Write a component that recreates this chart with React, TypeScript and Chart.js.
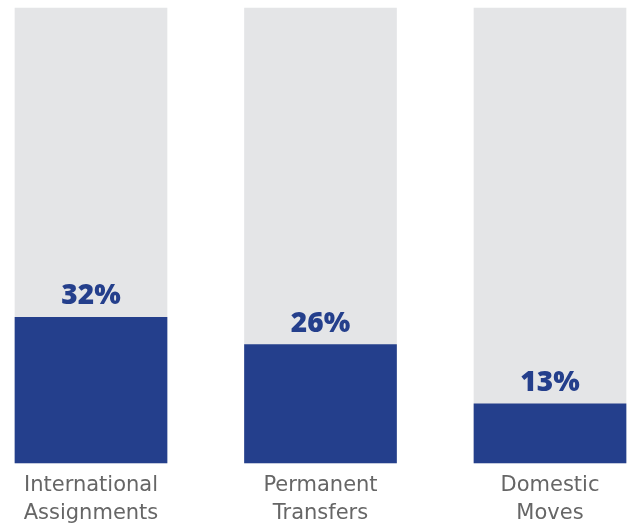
import React, { useEffect, useRef } from "react";
import { Chart, registerables } from "chart.js";

Chart.register(...registerables);

const categories: string[][] = [
  ["International", "Assignments"],
  ["Permanent", "Transfers"],
  ["Domestic", "Moves"],
];
const shares: number[] = [32, 26, 13];
const track: number[] = [100, 100, 100];

const BLUE = "#243F8C";
const GRAY = "#E4E5E7";

const valueLabels = {
  id: "valueLabels",
  afterDatasetsDraw(chart: any) {
    const ctx = chart.ctx;
    const meta = chart.getDatasetMeta(0);
    ctx.save();
    ctx.fillStyle = BLUE;
    ctx.font = '800 28px "Open Sans"';
    ctx.textAlign = "center";
    ctx.textBaseline = "alphabetic";
    meta.data.forEach((el: any, i: number) => {
      ctx.fillText(`${shares[i]}%`, el.x, el.y - 13);
    });
    ctx.restore();
  },
};

export default function App() {
  const ref = useRef<HTMLCanvasElement>(null);
  useEffect(() => {
    if (!ref.current) return;
    const chart = new Chart(ref.current, {
      type: "bar",
      data: {
        labels: categories,
        datasets: [
          {
            data: shares,
            backgroundColor: BLUE,
            barThickness: 152,
            grouped: false,
            order: 0,
            clip: false,
          } as any,
          {
            data: track,
            backgroundColor: GRAY,
            barThickness: 152,
            grouped: false,
            order: 1,
            clip: false,
          } as any,
        ],
      },
      options: {
        responsive: false,
        animation: false,
        layout: { padding: { left: 91, right: 79, top: 8, bottom: -12 } },
        plugins: { legend: { display: false }, tooltip: { enabled: false } },
        scales: {
          x: {
            offset: false,
            grid: { display: false, drawTicks: false },
            border: { display: false },
            ticks: {
              color: "#666666",
              padding: 9,
              maxRotation: 0,
              autoSkip: false,
              font: { family: '"DejaVu Sans"', size: 21, lineHeight: "28px" },
            },
          },
          y: { display: false, min: 0, max: 100 },
        },
      },
      plugins: [valueLabels],
    });
    return () => chart.destroy();
  }, []);
  return (
    <div style={{ position: "absolute", left: 0, top: 0, width: 629, height: 525 }}>
      <canvas ref={ref} width={629} height={525} style={{ display: "block" }} />
    </div>
  );
}
